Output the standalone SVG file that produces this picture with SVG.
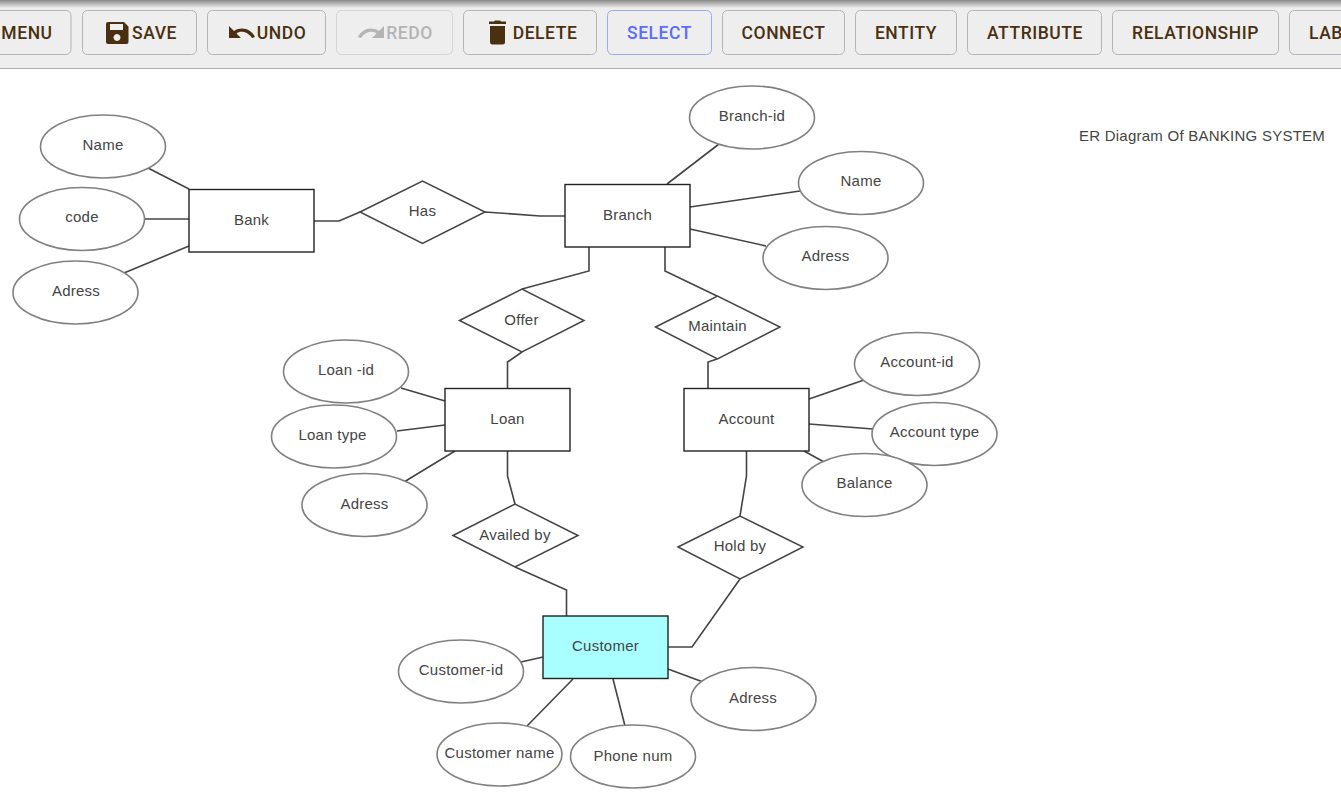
<svg xmlns="http://www.w3.org/2000/svg" width="1341" height="799" viewBox="0 0 1341 799">
<style>
text{font-family:"Liberation Sans",Arial,sans-serif;font-size:15px;letter-spacing:.25px;fill:#444;text-anchor:middle;dominant-baseline:central}
g[id^="n-"] text,g[id^="a-"] text,#title text{transform:translateY(-1px)}
.e{fill:#fff;stroke:#808080;stroke-width:1.6}
.r{fill:#fff;stroke:#222;stroke-width:1.4}
.d{fill:#fff;stroke:#444;stroke-width:1.5}
.c{fill:none;stroke:#444;stroke-width:1.6}
.b{fill:#eee;stroke:#b4b4b4;stroke-width:1}
.t{font-family:Roboto,sans-serif;font-size:17.5px;font-weight:480;fill:#4a3010;letter-spacing:.55px}
</style>
<defs><linearGradient id="sh" x1="0" y1="0" x2="0" y2="1"><stop offset="0" stop-color="#888"/><stop offset="1" stop-color="#eee"/></linearGradient></defs>
<rect width="1341" height="799" fill="#fff"/>
<g id="toolbar">
<rect width="1341" height="68" fill="#eee"/>
<rect width="1341" height="8" fill="url(#sh)"/>
<line x1="0" y1="68.500" x2="1341" y2="68.500" stroke="#aaa" stroke-width="1"/>
<rect class="b" x="-30" y="10.500" width="101" height="44" rx="5"/><text class="t" x="27" y="32.500">MENU</text>
<rect class="b" x="82.500" y="10.500" width="114" height="44" rx="5"/><path fill="#4a3010" d="M108 22h16l4.500 4.500v15.500a2 2 0 0 1-2 2h-18.500a2 2 0 0 1-2-2v-18a2 2 0 0 1 2-2zM110 24v6h13v-6zM117 34a3.500 3.500 0 1 0 .01 0z"/><text class="t" x="154.500" y="32.500">SAVE</text>
<rect class="b" x="207.500" y="10.500" width="118" height="44" rx="5"/><path fill="#4a3010" d="M229 26v12h12l-4.500-4.500c3-2.500 10-3 15.500 4.500l3-1c-4-8-13-11-21-6z"/><text class="t" x="281.500" y="32.500">UNDO</text>
<rect x="336.500" y="10.500" width="116" height="44" rx="5" fill="#eee" stroke="#d4d4d4"/><path fill="#b4b4b4" d="M384 26v12h-12l4.500-4.500c-3-2.500-10-3-15.500 4.500l-3-1c4-8 13-11 21-6z"/><text class="t" x="409.500" y="32.500" style="fill:#b4b4b4">REDO</text>
<rect class="b" x="463.500" y="10.500" width="133" height="44" rx="5"/><path fill="#4a3010" d="M489 24h17v-2.500h-5l-1-1h-5l-1 1h-5zM490 26h15v16a2.500 2.500 0 0 1-2.500 2.500h-10a2.500 2.500 0 0 1-2.500-2.500z"/><text class="t" x="545" y="32.500">DELETE</text>
<rect x="607.500" y="10.500" width="104" height="44" rx="5" fill="#eee" stroke="#9aa8f5"/><text class="t" x="659.500" y="32.500" style="fill:#5b6bff">SELECT</text>
<rect class="b" x="722.500" y="10.500" width="122" height="44" rx="5"/><text class="t" x="783.500" y="32.500">CONNECT</text>
<rect class="b" x="855.500" y="10.500" width="101" height="44" rx="5"/><text class="t" x="906" y="32.500">ENTITY</text>
<rect class="b" x="967.500" y="10.500" width="134" height="44" rx="5"/><text class="t" x="1035" y="32.500">ATTRIBUTE</text>
<rect class="b" x="1112.500" y="10.500" width="166" height="44" rx="5"/><text class="t" x="1195.500" y="32.500">RELATIONSHIP</text>
<rect class="b" x="1289.500" y="10.500" width="100" height="44" rx="5"/><text class="t" x="1309" y="32.500" style="text-anchor:start">LAB</text>
</g>
<g id="connectors" class="c">
<path class="c" d="M148 168L189 189M145 219H189M124 273L189 246"/>
<path class="c" d="M314 221H339L360 212"/>
<path class="c" d="M485 212L540 216H565"/>
<path class="c" d="M667 184L719 144M690 207L800 191M690 229L766 246"/>
<path class="c" d="M589 247V271L522 289"/>
<path class="c" d="M665 247V271L717 296"/>
<path class="c" d="M522 352L507.500 362V388"/>
<path class="c" d="M717 359L708 362V388"/>
<path class="c" d="M401 388L445 401M397 431L445 425M404 482L455 451"/>
<path class="c" d="M809 399L864 380M809 424L873 429M804 451L824 462"/>
<path class="c" d="M507.500 451V476L515 504"/>
<path class="c" d="M746.500 451V476L740 516"/>
<path class="c" d="M515 567L566.500 590V616"/>
<path class="c" d="M740 579L692 647H668"/>
<path class="c" d="M521 662L543 657M527 726L573 679M625 726L613 679M668 669L703 682"/>
</g>
<g id="n-bank"><rect class="r" x="189" y="189.500" width="125" height="62.500"/><text x="251.500" y="220">Bank</text></g>
<g id="n-branch"><rect class="r" x="565" y="184.500" width="125" height="62.500"/><text x="627.500" y="215">Branch</text></g>
<g id="n-loan"><rect class="r" x="445" y="388.500" width="125" height="62.500"/><text x="507.500" y="419">Loan</text></g>
<g id="n-account"><rect class="r" x="684" y="388.500" width="125" height="62.500"/><text x="746.500" y="419">Account</text></g>
<g id="n-customer"><rect class="r" x="543" y="616" width="125" height="62.500" style="fill:#a9ffff"/><text x="605.500" y="646">Customer</text></g>
<g id="n-has"><polygon class="d" points="360,212 422.500,181 485,212 422.500,243.500"/><text x="422.500" y="211">Has</text></g>
<g id="n-offer"><polygon class="d" points="459.500,320.500 522,289 584,320.500 522,352"/><text x="521.500" y="320">Offer</text></g>
<g id="n-maintain"><polygon class="d" points="655.500,327 717.500,296 780,327 717.500,359"/><text x="717.500" y="326">Maintain</text></g>
<g id="n-availed"><polygon class="d" points="453,535.500 515,504 578,535.500 515,567"/><text x="515" y="535">Availed by</text></g>
<g id="n-hold"><polygon class="d" points="678,547 740,516 803,547 740,579"/><text x="740" y="546">Hold by</text></g>
<g id="a-bank-name"><ellipse class="e" cx="103" cy="146.500" rx="62.500" ry="31.500"/><text x="103" y="145">Name</text></g>
<g id="a-bank-code"><ellipse class="e" cx="82" cy="219" rx="62.500" ry="31.500"/><text x="82" y="217">code</text></g>
<g id="a-bank-adress"><ellipse class="e" cx="75.500" cy="292.500" rx="62.500" ry="31.500"/><text x="76" y="291">Adress</text></g>
<g id="a-branch-id"><ellipse class="e" cx="752" cy="117.500" rx="62.500" ry="31.500"/><text x="752" y="116">Branch-id</text></g>
<g id="a-branch-name"><ellipse class="e" cx="861" cy="183" rx="62.500" ry="31.500"/><text x="861" y="181">Name</text></g>
<g id="a-branch-adress"><ellipse class="e" cx="825.500" cy="258" rx="62.500" ry="31.500"/><text x="825.500" y="256">Adress</text></g>
<g id="a-loan-id"><ellipse class="e" cx="346" cy="371.500" rx="62.500" ry="31.500"/><text x="346" y="370">Loan -id</text></g>
<g id="a-loan-type"><ellipse class="e" cx="334" cy="436.500" rx="62.500" ry="31.500"/><text x="332.500" y="435">Loan type</text></g>
<g id="a-loan-adress"><ellipse class="e" cx="364.500" cy="505" rx="62.500" ry="31.500"/><text x="364.500" y="504">Adress</text></g>
<g id="a-acc-id"><ellipse class="e" cx="917" cy="364" rx="62.500" ry="31.500"/><text x="917" y="362">Account-id</text></g>
<g id="a-acc-type"><ellipse class="e" cx="934.500" cy="434" rx="62.500" ry="31.500"/><text x="934.500" y="432">Account type</text></g>
<g id="a-acc-balance"><ellipse class="e" cx="864.500" cy="485" rx="62.500" ry="31.500"/><text x="864.500" y="483">Balance</text></g>
<g id="a-cust-id"><ellipse class="e" cx="461" cy="671.500" rx="62.500" ry="31.500"/><text x="461" y="670">Customer-id</text></g>
<g id="a-cust-name"><ellipse class="e" cx="499.500" cy="754.500" rx="62.500" ry="31.500"/><text x="499.500" y="753">Customer name</text></g>
<g id="a-cust-phone"><ellipse class="e" cx="633" cy="756.500" rx="62.500" ry="31.500"/><text x="633" y="756">Phone num</text></g>
<g id="a-cust-adress"><ellipse class="e" cx="753.500" cy="699" rx="62.500" ry="31.500"/><text x="753" y="698">Adress</text></g>
<g id="title"><text x="1202" y="136">ER Diagram Of BANKING SYSTEM</text></g>
</svg>
